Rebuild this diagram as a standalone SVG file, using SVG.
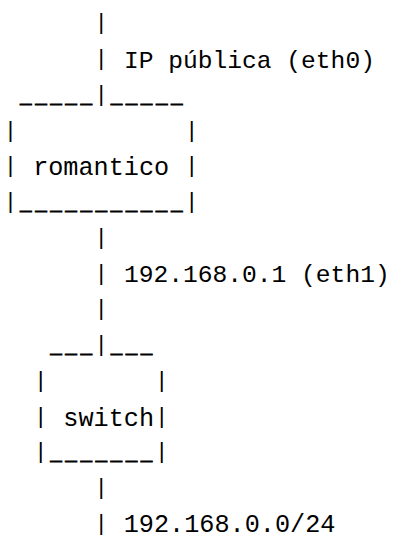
<svg xmlns="http://www.w3.org/2000/svg" width="393" height="540" viewBox="0 0 393 540">
  <style>
    text { font-family: "Liberation Mono", "DejaVu Sans Mono", monospace; fill: #000; white-space: pre; }
    .bar { font-size: 22.4px; text-anchor: middle; }
    .rule { font-size: 19.3px; letter-spacing: 3.52px; stroke: #000; stroke-width: 0.9px; }
    .name { font-size: 25.2px; }
    .lbl { font-size: 24.6px; }
  </style>
  <rect width="393" height="540" fill="#fff"/>

  <!-- uplink, LAN link and subnet: column-6 bars with address labels -->
  <g id="connectors">
    <text class="bar" x="101.1" y="29.3">|</text>
    <text class="bar" x="101.1" y="65.06">|</text>
    <text class="bar" x="101.1" y="100.82">|</text>
    <text class="bar" x="101.1" y="243.86">|</text>
    <text class="bar" x="101.1" y="279.62">|</text>
    <text class="bar" x="101.1" y="315.38">|</text>
    <text class="bar" x="101.1" y="351.14">|</text>
    <text class="bar" x="101.1" y="494.18">|</text>
    <text class="bar" x="101.1" y="529.94">|</text>
    <text class="lbl" x="124" y="67.5">IP pública (eth0)</text>
    <text class="lbl" x="124" y="282.3">192.168.0.1 (eth1)</text>
    <text class="name" x="123.75" y="531.5">192.168.0.0/24</text>
  </g>

  <!-- router box -->
  <g id="romantico">
    <text class="rule" x="20.05" y="102.6">_____</text>
    <text class="rule" x="110.65" y="102.6">_____</text>
    <text class="bar" x="10.5" y="136.58">|</text>
    <text class="bar" x="191.7" y="136.58">|</text>
    <text class="bar" x="10.5" y="172.34">|</text>
    <text class="name" x="33.15" y="175.3">romantico</text>
    <text class="bar" x="191.7" y="172.34">|</text>
    <text class="bar" x="10.5" y="208.1">|</text>
    <text class="rule" x="20.05" y="209.9">___________</text>
    <text class="bar" x="191.7" y="208.1">|</text>
  </g>

  <!-- switch box -->
  <g id="switch">
    <text class="rule" x="50.25" y="352.9">___</text>
    <text class="rule" x="110.65" y="352.9">___</text>
    <text class="bar" x="40.7" y="386.9">|</text>
    <text class="bar" x="161.7" y="386.9">|</text>
    <text class="bar" x="40.7" y="422.66">|</text>
    <text class="name" x="63.35" y="425.7">switch</text>
    <text class="bar" x="161.7" y="422.66">|</text>
    <text class="bar" x="40.7" y="458.42">|</text>
    <text class="rule" x="50.25" y="460.2">_______</text>
    <text class="bar" x="161.7" y="458.42">|</text>
  </g>
</svg>
